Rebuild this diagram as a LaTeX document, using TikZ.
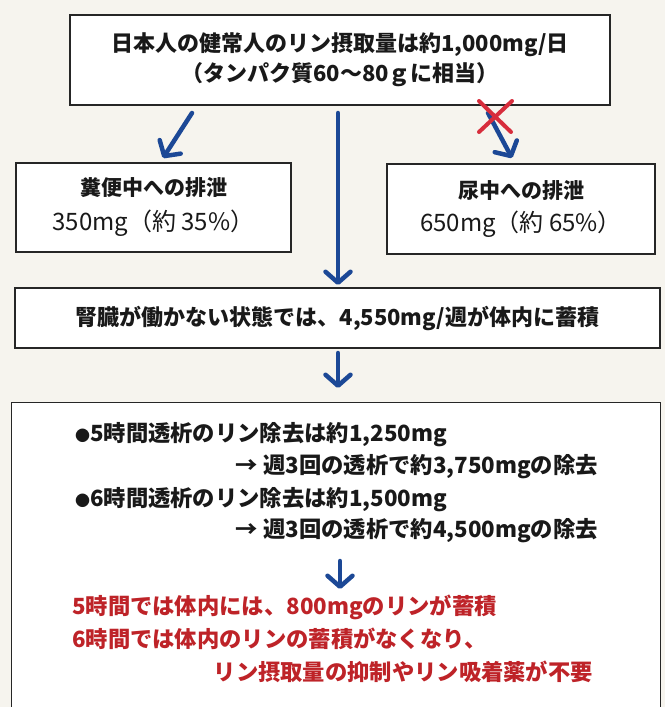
\documentclass[tikz,border=0pt]{standalone}
\usepackage{fontspec}
\setmainfont{Noto Sans CJK JP}
\usetikzlibrary{arrows.meta}
\definecolor{bgcream}{RGB}{246,244,238}
\definecolor{flowblue}{RGB}{28,72,150}
\definecolor{txtred}{RGB}{190,35,40}
\definecolor{xred}{RGB}{215,45,60}
\begin{document}
\begin{tikzpicture}[x=1pt,y=-1pt,
  box/.style={draw=black!85, line width=1.3pt, fill=white, inner sep=0pt, align=center, text=black!90},
  flow/.style={draw=flowblue, line width=4.5pt, line cap=round, -{Straight Barb[length=11pt,width=25pt,round]}},
  xmark/.style={draw=xred, line width=4pt, line cap=round},
  body/.style={font=\fontsize{22.3}{26}\selectfont\bfseries, inner sep=0pt, text=black!90},
  redtxt/.style={font=\fontsize{22.3}{26}\selectfont\bfseries, inner sep=0pt, text=txtred}]
\fill[bgcream] (0,0) rectangle (665,707);
\useasboundingbox (0,0) rectangle (665,707);
% boxes
\node[box, minimum width=540pt, minimum height=90pt, font=\fontsize{22}{30}\selectfont\bfseries] (top) at (340,60)
  {日本人の健常人のリン摂取量は約1,000mg/日\\（タンパク質60～80ｇに相当）};
\node[box, minimum width=275pt, minimum height=89pt, font=\fontsize{21}{35}\selectfont] (feces) at (153.5,207.5)
  {{\bfseries 糞便中への排泄}\\{\fontsize{24}{35}\selectfont 350mg（約 35\%）}};
\node[box, minimum width=268pt, minimum height=90pt, font=\fontsize{21}{33}\selectfont] (urine) at (521,209)
  {{\bfseries 尿中への排泄}\\{\fontsize{24}{33}\selectfont 650mg（約 65\%）}};
\node[box, minimum width=645pt, minimum height=60pt, font=\fontsize{22}{26}\selectfont\bfseries] (mid) at (337.5,318)
  {腎臓が働かない状態では、4,550mg/週が体内に蓄積};
\node[fill=white, inner sep=0pt, minimum width=648pt, minimum height=309pt] (bot) at (336,557.5) {};
\draw[black!85, line width=1.3pt] (bot.south west) -- (bot.north west) -- (bot.north east) -- (bot.south east);
% bottom box text
\node[body, anchor=west] (t1) at (75,435) {{\fontsize{15}{15}\selectfont ●}5時間透析のリン除去は約1,250mg};
\node[body, anchor=east] (t2) at (598,467) {→ 週3回の透析で約3,750mgの除去};
\node[body, anchor=west] (t3) at (75,500) {{\fontsize{15}{15}\selectfont ●}6時間透析のリン除去は約1,500mg};
\node[body, anchor=east] (t4) at (598,531) {→ 週3回の透析で約4,500mgの除去};
\node[redtxt, anchor=west] (r1) at (72,607) {5時間では体内には、800mgのリンが蓄積};
\node[redtxt, anchor=west] (r2) at (72,639) {6時間では体内のリンの蓄積がなくなり、};
\node[redtxt, anchor=east] (r3) at (593,672) {リン摂取量の抑制やリン吸着薬が不要};
% connectors
\coordinate (la) at (192,113);
\coordinate (lb) at (163,158);
\coordinate (ra) at (488,113);
\coordinate (rb) at (512,158);
\coordinate (ca) at (338,113);
\coordinate (cb) at (338,285);
\coordinate (da) at (338,353);
\coordinate (db) at (338,388);
\coordinate (ea) at (340,561);
\coordinate (eb) at (340,589);
\draw[flow] (la) -- (lb);
\draw[flow] (ra) -- (rb);
\draw[flow] (ca) -- (cb);
\draw[flow] (da) -- (db);
\draw[flow] (ea) -- (eb);
% red cross
\draw[xmark] (479,101) -- (511,132);
\draw[xmark] (512,101) -- (479,132);
\end{tikzpicture}
\end{document}
